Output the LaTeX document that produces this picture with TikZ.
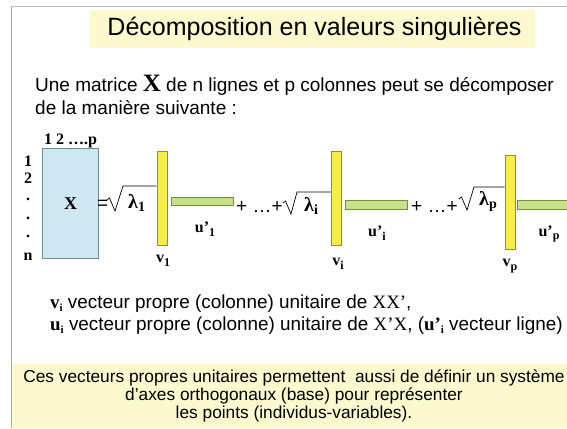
\documentclass[tikz,border=0pt]{standalone}
\usepackage{fontspec}
\setmainfont{Liberation Sans}
\newfontfamily\serifb{Liberation Serif}[BoldFont={Liberation Serif Bold}]
\begin{document}
\begin{tikzpicture}[x=1pt,y=-1pt,
  lbl/.style={inner sep=0pt,font=\serifb\bfseries\fontsize{16}{18}\selectfont},
  big/.style={inner sep=0pt,anchor=base west,font=\serifb\bfseries\fontsize{20}{22}\selectfont},
  body/.style={inner sep=0pt,anchor=base west,font=\fontsize{19}{22}\selectfont},
  vbar/.style={draw=yellowedge,fill=yellowfill,line width=0.8pt},
  hbar/.style={draw=greenedge,fill=greenfill,line width=0.8pt},
  rad/.style={line width=0.7pt,line join=miter}]
\definecolor{framegray}{RGB}{170,170,175}
\definecolor{titlebg}{RGB}{251,249,205}
\definecolor{bluefill}{RGB}{206,232,241}
\definecolor{blueedge}{RGB}{110,140,150}
\definecolor{yellowfill}{RGB}{244,238,70}
\definecolor{yellowedge}{RGB}{150,140,40}
\definecolor{greenfill}{RGB}{200,226,140}
\definecolor{greenedge}{RGB}{110,145,60}
\useasboundingbox (0,0) rectangle (567,428);
\fill[white] (0,0) rectangle (567,428);
% frame
\fill[titlebg] (12,364) rectangle (567,428);
\draw[framegray,line width=1.8pt] (11.5,428) -- (11.5,6.5);
\draw[framegray!70,line width=1pt] (11.5,6.5) -- (567,6.5);
% title
\fill[titlebg] (90,10) rectangle (535,48);
\node[inner sep=0pt,font=\fontsize{25}{28}\selectfont] (title) at (314.5,29) {Décomposition en valeurs singulières};
% intro
\node[body] (l1) at (35,91) {Une matrice {\serifb\bfseries\fontsize{25}{27}\selectfont X} de n lignes et p colonnes peut se décomposer};
\node[body] (l2) at (35,114) {de la manière suivante :};
% matrix X
\node[draw=blueedge,fill=bluefill,line width=0.8pt,minimum width=56pt,minimum height=110pt,inner sep=0pt] (X) at (70.5,203.5) {};
\node[lbl,font=\serifb\bfseries\fontsize{18}{20}\selectfont] (Xt) at (X.center) {X};
\node[lbl,anchor=base west] (cols) at (44,144) {1 2 ….p};
\node[lbl] (r1) at (28,161) {1};
\node[lbl] (r2) at (28,178) {2};
\node[lbl] (r3) at (28,199) {.};
\node[lbl] (r4) at (28,218) {.};
\node[lbl] (r5) at (28,236) {.};
\node[lbl] (rn) at (28,257) {n};
% term 1
\node[inner sep=0pt,anchor=base west,font=\fontsize{19}{21}\selectfont] (eq) at (97,209) {=};
\node[vbar,minimum width=10pt,minimum height=94pt,inner sep=0pt] (v1) at (162,198) {};
\draw[rad] (107,200) -- (109.5,198) -- (115,211) -- (123,186) -- (v1.west |- 0,186);
\node[big] (lam1) at (128,208) {λ\raisebox{-3pt}{\fontsize{14}{15}\selectfont 1}};
\node[hbar,minimum width=62pt,minimum height=8pt,inner sep=0pt] (u1) at (202,201) {};
\node[lbl] (u1t) at (205,229) {u’\raisebox{-3.5pt}{\fontsize{12}{14}\selectfont 1}};
\node[lbl] (v1t) at (163,261) {v\raisebox{-3.5pt}{\fontsize{12}{14}\selectfont 1}};
% term i
\node[inner sep=0pt,anchor=base west,font=\fontsize{19}{21}\selectfont] (pl1) at (236,212) {+ …+};
\node[vbar,minimum width=10pt,minimum height=94pt,inner sep=0pt] (vi) at (336.5,198) {};
\draw[rad] (283,203) -- (285.5,201) -- (291,214) -- (297,192) -- (vi.west |- 0,192);
\node[big] (lami) at (304,211) {λ\raisebox{-3pt}{\fontsize{14}{15}\selectfont i}};
\node[hbar,minimum width=62pt,minimum height=9pt,inner sep=0pt] (ui) at (376,205) {};
\node[lbl] (uit) at (377,233) {u’\raisebox{-3.5pt}{\fontsize{12}{14}\selectfont i}};
\node[lbl] (vit) at (338,264) {v\raisebox{-3.5pt}{\fontsize{12}{14}\selectfont i}};
% term p
\node[inner sep=0pt,anchor=base west,font=\fontsize{19}{21}\selectfont] (pl2) at (411,212) {+ …+};
\node[vbar,minimum width=10pt,minimum height=94pt,inner sep=0pt] (vp) at (510,202) {};
\draw[rad] (459,199) -- (461.5,197) -- (467,210) -- (474,187) -- (vp.west |- 0,187);
\node[big] (lamp) at (479,205) {λ\raisebox{-3pt}{\fontsize{14}{15}\selectfont p}};
\draw[hbar] (567,200) -- (517,200) -- (517,209) -- (567,209);
\node[lbl] (upt) at (549,234) {u’\raisebox{-3.5pt}{\fontsize{12}{14}\selectfont p}};
\node[lbl] (vpt) at (510,266) {v\raisebox{-3.5pt}{\fontsize{12}{14}\selectfont p}};
% explanations
\node[body,font=\fontsize{18.9}{21}\selectfont] (e1) at (50,308) {{\serifb\bfseries v\raisebox{-3pt}{\fontsize{11}{12}\selectfont i}} vecteur propre (colonne) unitaire de {\serifb XX’},};
\node[body,font=\fontsize{18.9}{21}\selectfont] (e2) at (50,330) {{\serifb\bfseries u\raisebox{-3pt}{\fontsize{11}{12}\selectfont i}} vecteur propre (colonne) unitaire de {\serifb X’X}, ({\serifb\bfseries u’\raisebox{-3pt}{\fontsize{11}{12}\selectfont i}} vecteur ligne)};
% bottom box
\node[inner sep=0pt,align=center,font=\fontsize{17.3}{18}\selectfont] (bt) at (294,396) {Ces vecteurs propres unitaires permettent\ \ aussi de définir un système\\d’axes orthogonaux (base) pour représenter\\les points (individus-variables).};
\end{tikzpicture}
\end{document}
